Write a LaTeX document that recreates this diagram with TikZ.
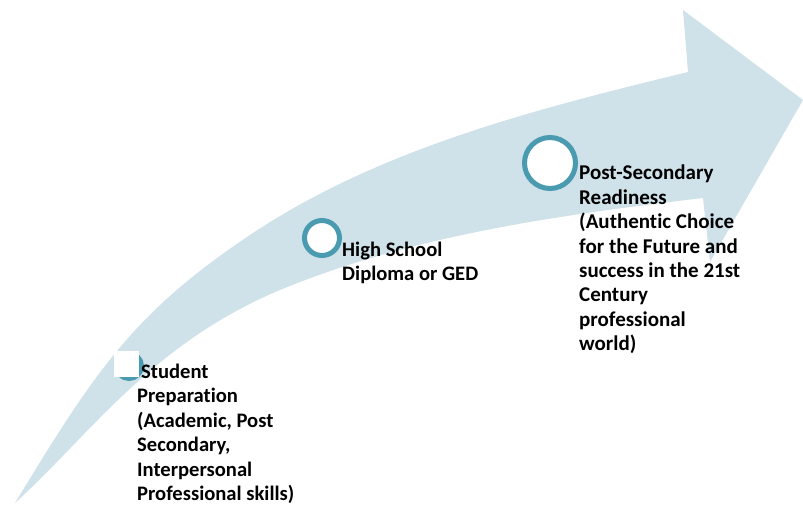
\documentclass[tikz,border=0pt]{standalone}
\usepackage{fontspec}
\setmainfont{Carlito}[Ligatures=NoCommon]
\definecolor{arrowblue}{RGB}{207,225,233}
\definecolor{ringteal}{RGB}{74,155,176}
\begin{document}
\begin{tikzpicture}[x=1pt,y=-1pt,
  steptext/.style={font=\bfseries\fontsize{20.6}{24.5}\selectfont, align=left,
    anchor=north west, inner sep=0pt, text=black},
  ring/.style={draw=ringteal, line width=5pt, fill=white, circle, inner sep=0pt}]
\useasboundingbox (0,0) rectangle (803,505);

% curved upward arrow: upper edge, head, lower edge back to the tail
\fill[arrowblue]
  (15,503) .. controls (93,375) and (131,315) .. (247,237)
           .. controls (377,149) and (536,109) .. (688,72)
  -- (683,10) -- (803,100) -- (710,262) -- (703,198)
           .. controls (560,215) and (413,235) .. (280,290)
           .. controls (151,344) and (89,436) .. (15,503)
  -- cycle;

% milestones
\node[ring, minimum size=25pt] (c1) at (129,366) {};
\fill[white] (114,351) rectangle (139,377);
\node[ring, minimum size=35pt] (c2) at (322,238) {};
\node[ring, minimum size=51pt] (c3) at (550,163) {};

\node[steptext] (t1) at (137,363.5) {\hspace*{4pt}Student\\Preparation\\(Academic, Post\\Secondary,\\Interpersonal\\Professional skills)};
\node[steptext] (t2) at (342,241.5) {High School\\Diploma or GED};
\node[steptext, font=\bfseries\fontsize{21}{24.4}\selectfont] (t3) at (579,165) {Post-Secondary\\Readiness\\(Authentic Choice\\for the Future and\\success in the 21st\\Century\\professional\\world)};
\end{tikzpicture}
\end{document}
